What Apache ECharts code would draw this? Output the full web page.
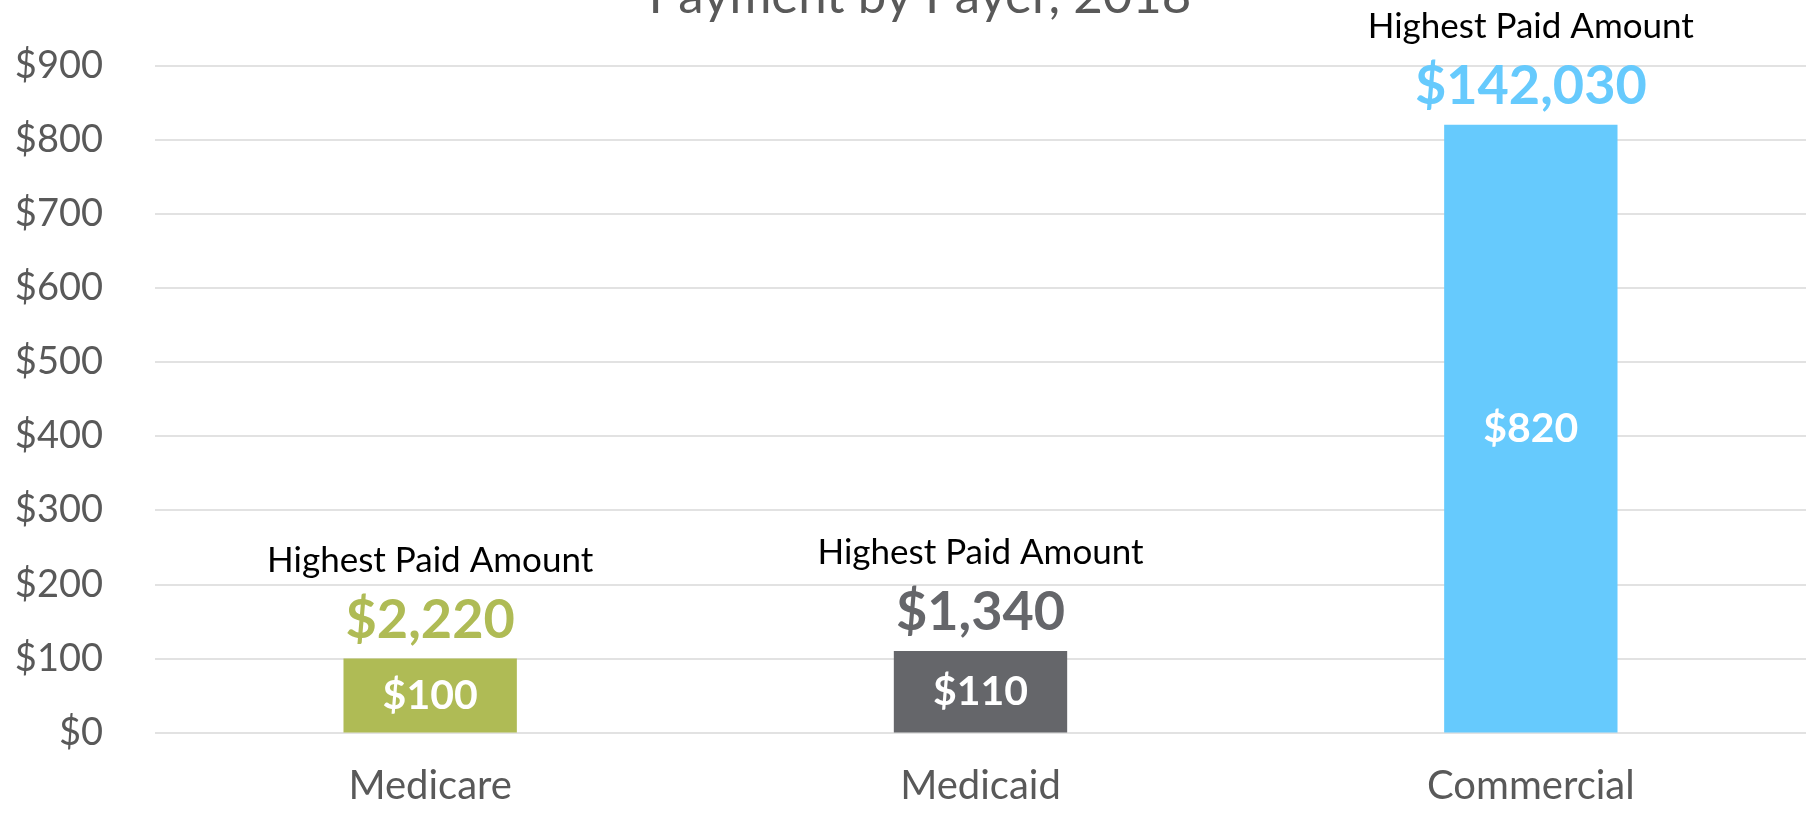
<!DOCTYPE html>
<html><head><meta charset="utf-8">
<script src="https://cdn.jsdelivr.net/npm/echarts@6/dist/echarts.min.js"></script>
<style>html,body{margin:0;padding:0;background:#fff}#c{width:1806px;height:817px}</style>
</head><body><div id="c"></div>
<script>
const title = "Payment by Payer, 2018";
const categories = ["Medicare", "Medicaid", "Commercial"];
const typicalPaid = [100, 110, 820];
const highestPaid = ["$2,220", "$1,340", "$142,030"];
const topLabel = "Highest Paid Amount";
const colors = ["#AFBB55", "#65666A", "#66CAFD"];
const yTicks = { min: 0, max: 900, interval: 100 };

const FONT = "Lato, 'Open Sans', sans-serif";
const chart = echarts.init(document.getElementById('c'));
chart.setOption({
  animation: false,
  title: {
    text: title, left: 915, textAlign: 'center', top: -34,
    textStyle: { fontFamily: FONT, fontSize: 51, color: '#595959', fontWeight: 'normal' }
  },
  grid: { left: 155, right: 0, top: 65.5, bottom: 84.5, containLabel: false },
  xAxis: {
    type: 'category', data: categories,
    axisLine: { show: false }, axisTick: { show: false },
    axisLabel: { fontFamily: FONT, fontSize: 40, color: '#595959', margin: 34 }
  },
  yAxis: {
    type: 'value', min: yTicks.min, max: yTicks.max, interval: yTicks.interval,
    axisLine: { show: false }, axisTick: { show: false },
    splitLine: { lineStyle: { color: '#D9D9D9', width: 1.5 } },
    axisLabel: { fontFamily: FONT, fontSize: 38, color: '#595959', margin: 52,
      formatter: v => '$' + v }
  },
  series: [
    {
      type: 'bar', barWidth: '31.5%',
      data: typicalPaid.map((v, i) => ({ value: v, itemStyle: { color: colors[i] } })),
      label: { show: true, position: 'inside', fontFamily: FONT, fontSize: 41,
        fontWeight: 'bold', color: '#fff', formatter: p => '$' + p.value }
    },
    {
      type: 'bar', barWidth: '31.5%', barGap: '-100%', silent: true,
      data: typicalPaid.map((v, i) => ({ value: v, itemStyle: { color: 'rgba(0,0,0,0)' },
        label: { rich: { b: { color: colors[i] } } } })),
      label: {
        show: true, position: 'top', distance: 8,
        formatter: p => '{a|' + topLabel + '}\n{b|' + highestPaid[p.dataIndex] + '}',
        rich: {
          a: { fontFamily: FONT, fontSize: 35, color: '#000', lineHeight: 60, align: 'center' },
          b: { fontFamily: FONT, fontSize: 54, fontWeight: 'bold', lineHeight: 60, align: 'center' }
        }
      }
    }
  ]
});
</script></body></html>
